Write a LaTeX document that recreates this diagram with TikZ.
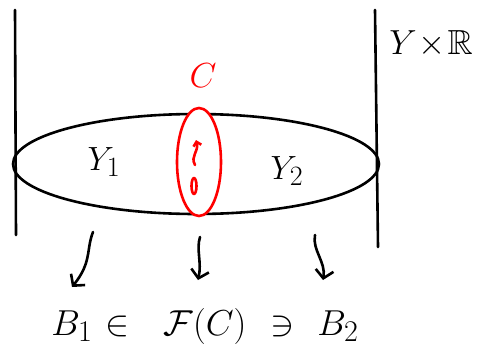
\documentclass[tikz,border=0pt]{standalone}
\usepackage{amssymb}
\usetikzlibrary{arrows.meta}
\newcommand{\bigtxt}[2]{\scalebox{#1}{\Huge #2}}
\begin{document}
\begin{tikzpicture}[x=1pt,y=-1pt,
  ink/.style={line width=2.6pt,line cap=round,line join=round},
  redink/.style={ink,red},
  mapto/.style={ink,-{Straight Barb[length=8pt,width=18pt,line width=2.6pt]}},
  lbl/.style={inner sep=0pt}]
\useasboundingbox (0,0) rectangle (478,348);
\fill[white] (0,0) rectangle (478,348);
% walls of Y x R
\draw[ink] (15,10) -- (16,235);
\draw[ink] (375,10) -- (378,247);
% Y
\draw[ink] (196,164) ellipse [x radius=183, y radius=50];
% C
\draw[redink,fill=white] (199,162) ellipse [x radius=22, y radius=54];
\draw[redink,-{Straight Barb[length=4pt,width=8pt]}] (195,165) .. controls (190,156) and (199,152) .. (196,140);
\draw[redink] (194,186) ellipse [x radius=2.5, y radius=8];
% labels
\node[lbl,red] (c) at (203,76) {\bigtxt{1.4}{$C$}};
\node[lbl] (y1) at (104,162) {\bigtxt{1.35}{$Y_1$}};
\node[lbl] (y2) at (287,171) {\bigtxt{1.35}{$Y_2$}};
\node[lbl] (yr) at (431,44) {\bigtxt{1.4}{$Y\!\times\!\mathbb{R}$}};
% bottom line
\node[lbl,anchor=base] (b1) at (72,335) {\bigtxt{1.45}{$B_1$}};
\node[lbl,anchor=base] (in) at (118,335) {\bigtxt{1.45}{$\in$}};
\node[lbl,anchor=base] (fc) at (205,335) {\bigtxt{1.45}{$\mathcal{F}(C)$}};
\node[lbl,anchor=base] (ni) at (283,335) {\bigtxt{1.45}{$\ni$}};
\node[lbl,anchor=base] (b2) at (338,335) {\bigtxt{1.45}{$B_2$}};
% maps
\coordinate (s1) at (93,232);
\coordinate (s2) at (200,237);
\coordinate (s3) at (315,235);
\coordinate (t1) at (72,287);
\coordinate (t2) at (198,280);
\coordinate (t3) at (323,280);
\draw[mapto] (s1) .. controls (86,250) and (92,262) .. (t1);
\draw[mapto] (s2) .. controls (196,250) and (202,262) .. (t2);
\draw[mapto] (s3) .. controls (312,250) and (326,262) .. (t3);
\end{tikzpicture}
\end{document}
